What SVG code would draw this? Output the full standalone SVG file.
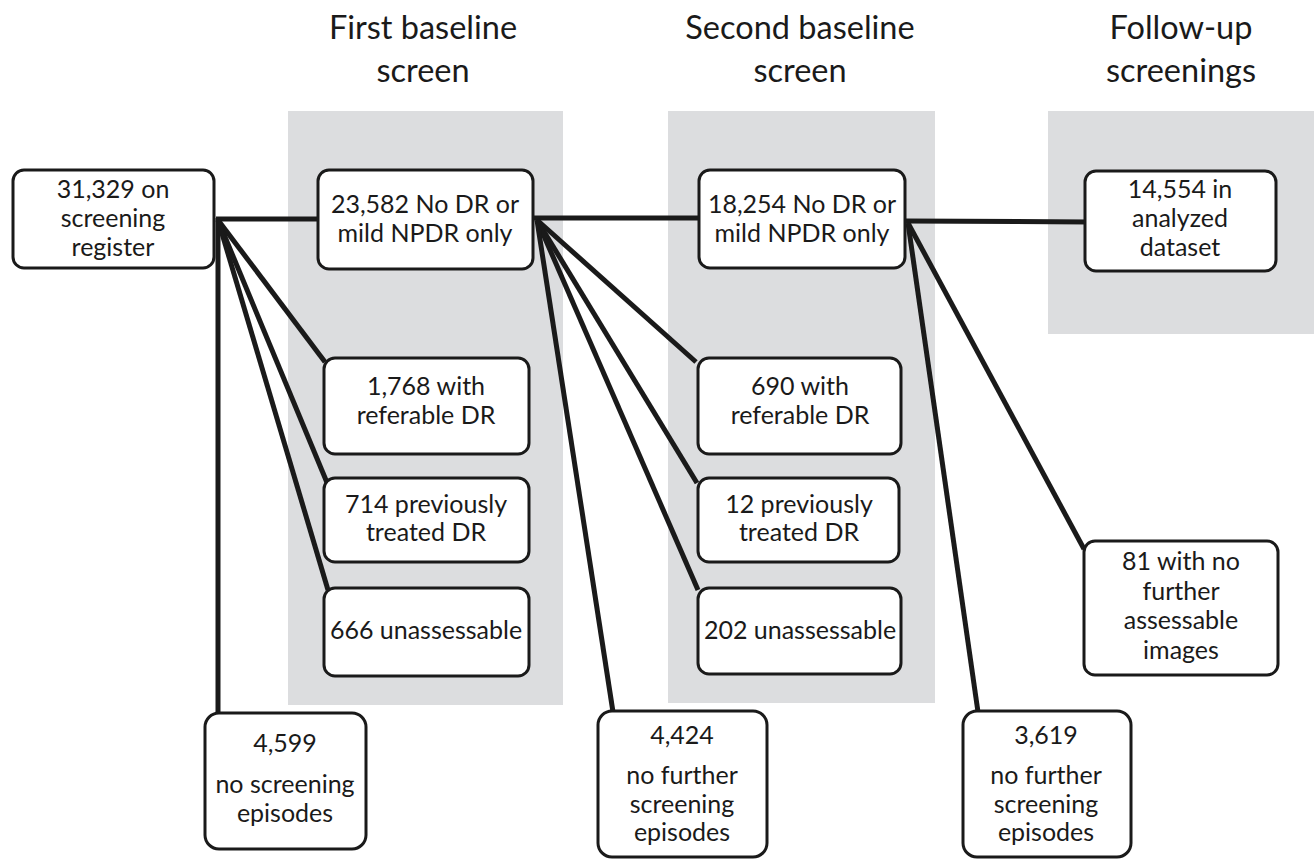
<svg xmlns="http://www.w3.org/2000/svg" width="1314" height="859" viewBox="0 0 1314 859">
<style>
.panel{fill:#dcdddf}
.box{fill:#fff;stroke:#1a1a1a;stroke-width:3}
.t{font-family:Lato,"Open Sans",sans-serif;font-size:25px;fill:#1a1a1a;text-anchor:middle}
.h{font-family:Lato,"Open Sans",sans-serif;font-size:32.5px;fill:#1a1a1a;text-anchor:middle}
.c{stroke:#1a1a1a;stroke-width:5;fill:none;stroke-linecap:butt}
</style>
<rect width="1314" height="859" fill="#fff"/>
<g id="panels">
<rect class="panel" x="288" y="111" width="275" height="594"/>
<rect class="panel" x="668" y="111" width="267" height="592"/>
<rect class="panel" x="1048" y="111" width="266" height="223"/>
</g>
<g id="headers">
<text class="h" x="423" y="39">First baseline</text>
<text class="h" x="423" y="82">screen</text>
<text class="h" x="800" y="39">Second baseline</text>
<text class="h" x="800" y="82">screen</text>
<text class="h" x="1181" y="39">Follow-up</text>
<text class="h" x="1181" y="82">screenings</text>
</g>
<g id="connectors">
<line class="c" x1="216" y1="219" x2="318" y2="219"/>
<line class="c" x1="218" y1="220" x2="325" y2="362"/>
<line class="c" x1="218" y1="220" x2="328" y2="485"/>
<line class="c" x1="218" y1="220" x2="328" y2="590"/>
<line class="c" x1="218" y1="218" x2="218" y2="713"/>
<line class="c" x1="534" y1="218" x2="699" y2="218"/>
<line class="c" x1="537" y1="220" x2="696" y2="362"/>
<line class="c" x1="537" y1="220" x2="697" y2="483"/>
<line class="c" x1="537" y1="220" x2="698" y2="590"/>
<line class="c" x1="537" y1="220" x2="613" y2="712"/>
<line class="c" x1="906" y1="221" x2="1089" y2="222"/>
<line class="c" x1="908" y1="223" x2="1084" y2="549"/>
<line class="c" x1="908" y1="223" x2="978" y2="712"/>
</g>
<g id="n-register">
<rect class="box" x="13" y="170" width="201" height="98" rx="11"/>
<text class="t" x="113" y="198">31,329 on</text>
<text class="t" x="113" y="227">screening</text>
<text class="t" x="113" y="256">register</text>
</g>
<g id="n-first-nodr">
<rect class="box" x="318" y="170" width="215" height="99" rx="11"/>
<text class="t" x="425" y="213">23,582 No DR or</text>
<text class="t" x="425" y="242">mild NPDR only</text>
</g>
<g id="n-second-nodr">
<rect class="box" x="699" y="170" width="206" height="98" rx="11"/>
<text class="t" x="802" y="213">18,254 No DR or</text>
<text class="t" x="802" y="242">mild NPDR only</text>
</g>
<g id="n-analyzed">
<rect class="box" x="1085" y="171" width="191" height="100" rx="11"/>
<text class="t" x="1180" y="198">14,554 in</text>
<text class="t" x="1180" y="227">analyzed</text>
<text class="t" x="1180" y="256">dataset</text>
</g>
<g id="n-first-referable">
<rect class="box" x="324" y="358" width="205" height="96" rx="11"/>
<text class="t" x="426" y="395">1,768 with</text>
<text class="t" x="426" y="424">referable DR</text>
</g>
<g id="n-first-treated">
<rect class="box" x="324" y="478" width="205" height="84" rx="11"/>
<text class="t" x="426" y="513">714 previously</text>
<text class="t" x="426" y="541">treated DR</text>
</g>
<g id="n-first-unassessable">
<rect class="box" x="324" y="588" width="205" height="88" rx="11"/>
<text class="t" x="426" y="639">666 unassessable</text>
</g>
<g id="n-second-referable">
<rect class="box" x="698" y="358" width="203" height="96" rx="11"/>
<text class="t" x="800" y="395">690 with</text>
<text class="t" x="800" y="424">referable DR</text>
</g>
<g id="n-second-treated">
<rect class="box" x="698" y="478" width="201" height="84" rx="11"/>
<text class="t" x="799" y="513">12 previously</text>
<text class="t" x="799" y="541">treated DR</text>
</g>
<g id="n-second-unassessable">
<rect class="box" x="698" y="588" width="203" height="86" rx="11"/>
<text class="t" x="800" y="639">202 unassessable</text>
</g>
<g id="n-no-images">
<rect class="box" x="1084" y="541" width="194" height="134" rx="11"/>
<text class="t" x="1181" y="570">81 with no</text>
<text class="t" x="1181" y="600">further</text>
<text class="t" x="1181" y="629">assessable</text>
<text class="t" x="1181" y="659">images</text>
</g>
<g id="n-no-screening">
<rect class="box" x="205" y="713" width="161" height="136" rx="14"/>
<text class="t" x="285" y="752">4,599</text>
<text class="t" x="285" y="793">no screening</text>
<text class="t" x="285" y="822">episodes</text>
</g>
<g id="n-no-further-1">
<rect class="box" x="598" y="711" width="169" height="146" rx="14"/>
<text class="t" x="682" y="744">4,424</text>
<text class="t" x="682" y="784">no further</text>
<text class="t" x="682" y="813">screening</text>
<text class="t" x="682" y="841">episodes</text>
</g>
<g id="n-no-further-2">
<rect class="box" x="963" y="711" width="168" height="146" rx="14"/>
<text class="t" x="1046" y="744">3,619</text>
<text class="t" x="1046" y="784">no further</text>
<text class="t" x="1046" y="813">screening</text>
<text class="t" x="1046" y="841">episodes</text>
</g>
</svg>
